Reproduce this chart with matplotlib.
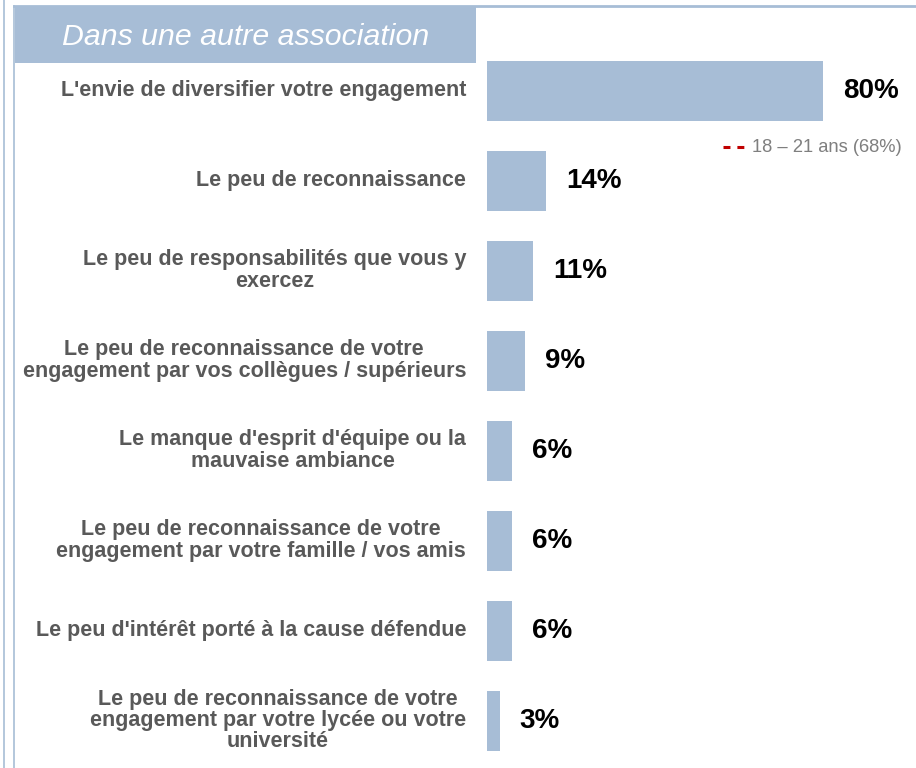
import matplotlib
matplotlib.use('Agg')
import matplotlib.pyplot as plt
from matplotlib.patches import Rectangle
from matplotlib.lines import Line2D

plt.rcParams['font.family'] = ['Liberation Sans', 'DejaVu Sans']

# ==========================================
# DONNÉES
# ==========================================
categories = [
    "L'envie de diversifier votre engagement",
    "Le peu de reconnaissance",
    "Le peu de responsabilités que vous y\nexercez",
    "Le peu de reconnaissance de votre\nengagement par vos collègues / supérieurs",
    "Le manque d'esprit d'équipe ou la\nmauvaise ambiance",
    "Le peu de reconnaissance de votre\nengagement par votre famille / vos amis",
    "Le peu d'intérêt porté à la cause défendue",
    "Le peu de reconnaissance de votre\nengagement par votre lycée ou votre\nuniversité",
]
values = [80, 14, 11, 9, 6, 6, 6, 3]
title = "Dans une autre association"
legend_label = "18 – 21 ans (68%)"

# ==========================================
# MISE EN PAGE
# ==========================================
W, H = 916, 768
bar_color = '#A7BDD6'
frame_color = '#A7BDD6'
label_color = '#595959'

fig = plt.figure(figsize=(W / 100, H / 100), dpi=100)
fig.patch.set_facecolor('white')

# Axe des barres : 4.2 px par point de pourcentage, barres espacées de 90 px
x0 = 487
px_per_pct = 4.2
first_center, step = 90.5, 90
ax = fig.add_axes([x0 / W, 0, 1 - x0 / W, 1])
ax.set_xlim(0, (W - x0) / px_per_pct)
ax.set_ylim((H - first_center) / step, -first_center / step)
ax.axis('off')

pos = list(range(len(values)))
ax.barh(pos, values, height=60 / step, color=bar_color, edgecolor='none')

for i, (cat, v) in enumerate(zip(categories, values)):
    ax.annotate(cat, xy=(0, i), xytext=(-21, 0), textcoords='offset pixels',
                ha='right', va='center', multialignment='center',
                fontsize=15.5, fontweight='bold', color=label_color, linespacing=1.03)
    ax.annotate(f'{v}%', xy=(v, i), xytext=(20, 0), textcoords='offset pixels',
                ha='left', va='center', fontsize=20, fontweight='bold', color='black')

# Cadre (lignes fines à gauche et en haut)
fig.add_artist(Line2D([3.5 / W] * 2, [0, 1], color=frame_color, lw=1.2))
fig.add_artist(Line2D([14.5 / W] * 2, [0, 1 - 6 / H], color=frame_color, lw=1.2))
fig.add_artist(Line2D([14 / W, 1], [1 - 6 / H] * 2, color=frame_color, lw=2))

# Bandeau de titre
fig.add_artist(Rectangle((15 / W, 1 - 63 / H), (476 - 15) / W, 56 / H,
                         transform=fig.transFigure, facecolor=bar_color, edgecolor='none'))
fig.text(245.5 / W, 1 - 37 / H, title, ha='center', va='center',
         fontsize=21.8, style='italic', color='white')

# Légende
fig.add_artist(Line2D([723 / W, 745 / W], [1 - 147 / H] * 2, color='#C00000',
                      lw=2.2, linestyle=(0, (5 / 2.2, 5 / 2.2))))
fig.text(752 / W, 1 - 147 / H, legend_label, ha='left', va='center',
         fontsize=13.2, color='#7F7F7F')

fig.savefig('out.png', dpi=100, facecolor=fig.get_facecolor())
